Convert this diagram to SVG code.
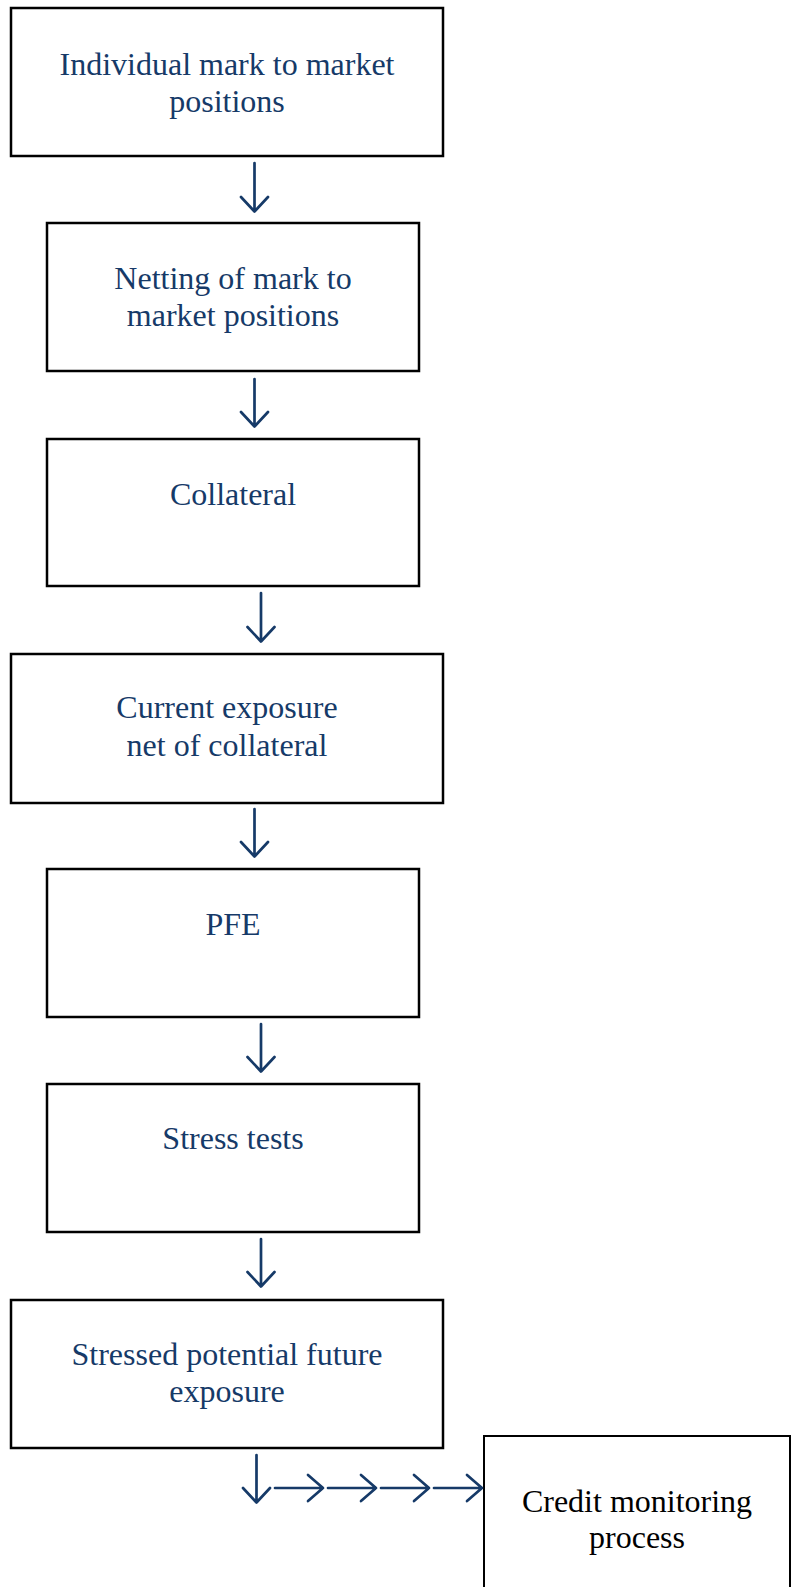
<svg xmlns="http://www.w3.org/2000/svg" width="791" height="1587" viewBox="0 0 791 1587">
<style>
.box{fill:#fff;stroke:#000;stroke-width:2.5}
.t{font-family:"Liberation Serif","Times New Roman",serif;font-size:32px;fill:#163a68;text-anchor:middle}
.tb{font-family:"Liberation Serif","Times New Roman",serif;font-size:32px;fill:#000;text-anchor:middle}
.c{fill:none;stroke:#163a68;stroke-width:2.7;stroke-linecap:round;stroke-linejoin:round}
</style>
<rect width="791" height="1587" fill="#fff"/>
<g id="n1"><rect class="box" x="11" y="8" width="432" height="148"/><text class="t" x="227" y="75">Individual mark to market</text><text class="t" x="227" y="112">positions</text></g>
<g id="n2"><rect class="box" x="47" y="223" width="372" height="148"/><text class="t" x="233" y="289">Netting of mark to</text><text class="t" x="233" y="326">market positions</text></g>
<g id="n3"><rect class="box" x="47" y="439" width="372" height="147"/><text class="t" x="233" y="505">Collateral</text></g>
<g id="n4"><rect class="box" x="11" y="654" width="432" height="149"/><text class="t" x="227" y="718">Current exposure</text><text class="t" x="227" y="756">net of collateral</text></g>
<g id="n5"><rect class="box" x="47" y="869" width="372" height="148"/><text class="t" x="233" y="935">PFE</text></g>
<g id="n6"><rect class="box" x="47" y="1084" width="372" height="148"/><text class="t" x="233" y="1149">Stress tests</text></g>
<g id="n7"><rect class="box" x="11" y="1300" width="432" height="148"/><text class="t" x="227" y="1365">Stressed potential future</text><text class="t" x="227" y="1402">exposure</text></g>
<g id="n8"><rect class="box" x="484" y="1436" width="306" height="170" style="stroke-width:2"/><text class="tb" x="637" y="1512">Credit monitoring</text><text class="tb" x="637" y="1548">process</text></g>
<g id="connectors">
<path class="c" d="M254.5,163V211.5M241,197L254.5,211.5L268,197"/>
<path class="c" d="M254.5,379V426.5M241,412L254.5,426.5L268,412"/>
<path class="c" d="M261,593V641.5M247.5,627L261,641.5L274.5,627"/>
<path class="c" d="M254.5,809V856.5M241,842L254.5,856.5L268,842"/>
<path class="c" d="M261,1024V1071.5M247.5,1057L261,1071.5L274.5,1057"/>
<path class="c" d="M261,1239V1286.5M247.5,1272L261,1286.5L274.5,1272"/>
<path class="c" d="M256.5,1455V1502.5M243,1488L256.5,1502.5L270,1488"/>
<path class="c" d="M275,1488H323M308,1475L323,1488L308,1501"/>
<path class="c" d="M328,1488H376M361,1475L376,1488L361,1501"/>
<path class="c" d="M381,1488H429M414,1475L429,1488L414,1501"/>
<path class="c" d="M434,1488H482M467,1475L482,1488L467,1501"/>
</g>
</svg>
